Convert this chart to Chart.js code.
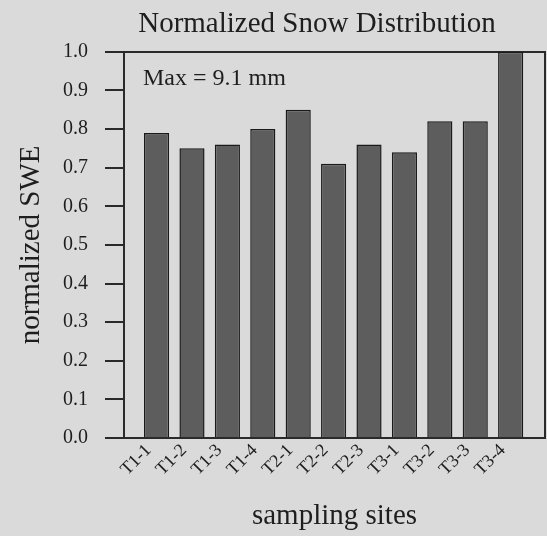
<!DOCTYPE html>
<html>
<head>
<meta charset="utf-8">
<script src="https://cdn.jsdelivr.net/npm/chart.js@4.4.1/dist/chart.umd.min.js"></script>
<style>
  html, body { margin: 0; padding: 0; background: #dadada; }
  #wrap { width: 547px; height: 536px; }
</style>
</head>
<body>
<div id="wrap"><canvas id="c" width="547" height="536"></canvas></div>
<script>
const categories = ['T1-1','T1-2','T1-3','T1-4','T2-1','T2-2','T2-3','T3-1','T3-2','T3-3','T3-4'];
const normalizedSWE = [0.79, 0.75, 0.76, 0.80, 0.85, 0.71, 0.76, 0.74, 0.82, 0.82, 1.00];
const yTickValues = [0.0, 0.1, 0.2, 0.3, 0.4, 0.5, 0.6, 0.7, 0.8, 0.9, 1.0];
const chartTitle = 'Normalized Snow Distribution';
const xTitle = 'sampling sites';
const yTitle = 'normalized SWE';
const annotationText = 'Max = 9.1 mm';

const FONT = "'Liberation Serif', 'Times New Roman', serif";
const INK = '#1e1e1e';

const annotationPlugin = {
  id: 'maxNote',
  afterDatasetsDraw(chart) {
    const { ctx, chartArea } = chart;
    ctx.save();
    ctx.font = '24px ' + FONT;
    ctx.fillStyle = INK;
    ctx.textAlign = 'left';
    ctx.textBaseline = 'alphabetic';
    ctx.fillText(annotationText, chartArea.left + 19, chartArea.top + 33);
    ctx.restore();
  }
};

const titleShiftPlugin = {
  id: 'titleShift',
  afterLayout(chart) {
    const t = chart.titleBlock;
    if (t) {
      t.left = chart.chartArea.left - 35;
      t.right = chart.chartArea.right;
    }
  }
};

new Chart(document.getElementById('c'), {
  type: 'bar',
  data: {
    datasets: [{
      data: normalizedSWE.map((v, i) => ({ x: i, y: v })),
      backgroundColor: '#5d5d5d',
      borderColor: '#1a1a1a',
      borderWidth: 1.5,
      categoryPercentage: 1.0,
      barPercentage: 0.71
    }]
  },
  options: {
    responsive: false,
    animation: false,
    devicePixelRatio: 1,
    layout: { padding: { left: 0, right: 2, top: 0, bottom: 0 } },
    plugins: {
      legend: { display: false },
      tooltip: { enabled: false },
      title: {
        display: true,
        text: chartTitle,
        color: INK,
        font: { family: FONT, size: 29, weight: 'normal' },
        padding: { top: 7, bottom: 10 }
      }
    },
    scales: {
      x: {
        type: 'linear',
        position: 'bottom',
        offset: false,
        min: -0.92,
        max: 10.97,
        afterBuildTicks(scale) {
          scale.ticks = categories.map((_, i) => ({ value: i }));
        },
        afterFit(scale) { scale.height = 98; },
        grid: { display: false, drawTicks: false, offset: false },
        border: { display: true, color: '#2a2a2a', width: 2 },
        ticks: {
          autoSkip: false,
          maxRotation: 45,
          minRotation: 45,
          padding: 2,
          labelOffset: -8,
          color: INK,
          font: { family: FONT, size: 18 },
          callback: (v) => categories[v]
        },
        title: {
          display: true,
          text: xTitle,
          color: INK,
          font: { family: FONT, size: 29 },
          padding: { top: 0, bottom: 2 }
        }
      },
      x2: {
        type: 'linear',
        position: 'top',
        min: 0, max: 1,
        grid: { display: false, drawTicks: false },
        border: { display: true, color: '#2a2a2a', width: 2 },
        ticks: { display: false }
      },
      y: {
        type: 'linear',
        position: 'left',
        min: 0,
        max: 1,
        afterFit(scale) { scale.width = 124; },
        afterBuildTicks(scale) {
          scale.ticks = yTickValues.map(v => ({ value: v }));
        },
        grid: {
          display: true,
          drawOnChartArea: false,
          drawTicks: true,
          tickLength: 19,
          color: '#2a2a2a',
          lineWidth: 2
        },
        border: { display: true, color: '#2a2a2a', width: 2 },
        ticks: {
          padding: 17,
          color: INK,
          font: { family: FONT, size: 20 },
          callback: (v) => Number(v).toFixed(1)
        },
        title: {
          display: true,
          text: yTitle,
          color: INK,
          font: { family: FONT, size: 29 },
          padding: { top: 14, bottom: 0 }
        }
      },
      y2: {
        type: 'linear',
        position: 'right',
        min: 0, max: 1,
        grid: { display: false, drawTicks: false },
        border: { display: true, color: '#2a2a2a', width: 2 },
        ticks: { display: false }
      }
    }
  },
  plugins: [annotationPlugin, titleShiftPlugin]
});
</script>
</body>
</html>
